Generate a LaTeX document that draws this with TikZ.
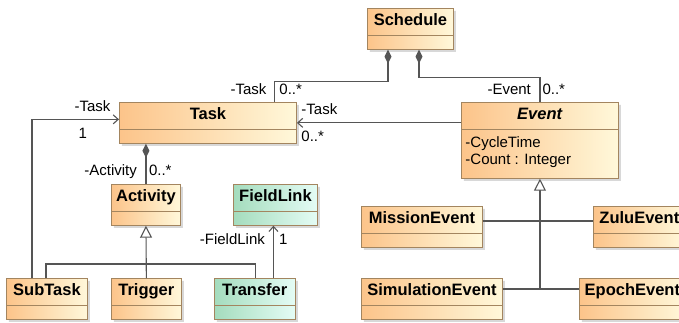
\documentclass[tikz,border=0pt]{standalone}
\usepackage{fontspec}
\setmainfont{Liberation Sans}
\usetikzlibrary{shapes.multipart,arrows.meta,positioning,shadows}

\definecolor{clsorange}{HTML}{FCC48A}
\definecolor{clscream}{HTML}{FFF8DA}
\definecolor{clsgreen}{HTML}{A4DCBD}
\definecolor{clsmint}{HTML}{E4FCF5}
\definecolor{clsborder}{HTML}{A3855F}
\definecolor{wire}{HTML}{555555}

\newcommand{\clsname}[1]{{\fontsize{16.5}{19}\selectfont\bfseries\strut#1}}

\begin{document}
\begin{tikzpicture}[
    x=1pt, y=-1pt,
    umlclass/.style={rectangle split, rectangle split parts=2, draw=clsborder, line width=0.9pt,
        left color=clsorange, right color=clscream, inner xsep=4pt, inner ysep=3.5pt,
        rectangle split empty part height=6pt, rectangle split empty part depth=0pt,
        font=\fontsize{15}{17}\selectfont, anchor=north west,
        drop shadow={shadow xshift=2.5pt, shadow yshift=-2.5pt, fill=black!30, opacity=0.5}},
    linkclass/.style={umlclass, left color=clsgreen, right color=clsmint},
    role/.style={font=\fontsize{15}{17}\selectfont, inner sep=1pt},
    wireline/.style={draw=wire, line width=1.1pt},
    comp/.style={wireline, {Diamond[length=14pt, width=7pt, fill=wire]}-},
    nav/.style={wireline, -{Straight Barb[length=5pt, width=9pt]}},
    gen/.style={wireline, -{Triangle[open, length=12pt, width=12pt, fill=white]}}
]
    \fill[white] (0,0) rectangle (679,322);
    \useasboundingbox (0,0) rectangle (679,322);

    % Classes
    \node[umlclass, minimum width=86pt] (schedule) at (367,8) {\clsname{Schedule}};
    \node[umlclass, minimum width=177pt] (task) at (119,102) {\clsname{Task}};
    \node[umlclass, minimum width=157pt, align=left, rectangle split part align={center,left}] (event) at (461,102)
        {\clsname{\textit{Event}}\nodepart{two}\rule{0pt}{14.5pt}-CycleTime\\-Count : Integer\rule[-9.5pt]{0pt}{9.5pt}};
    \node[umlclass, minimum width=69pt] (activity) at (111,184) {\clsname{Activity}};
    \node[linkclass, minimum width=84pt] (fieldlink) at (233,184) {\clsname{FieldLink}};
    \node[umlclass, minimum width=81pt] (subtask) at (6,278) {\clsname{SubTask}};
    \node[umlclass, minimum width=70pt, right=23pt of subtask] (trigger) {\clsname{Trigger}};
    \node[linkclass, minimum width=81pt, right=32pt of trigger] (transfer) {\clsname{Transfer}};
    \node[umlclass, minimum width=121pt] (mission) at (361,206) {\clsname{MissionEvent}};
    \node[umlclass, minimum width=92pt, right=110pt of mission] (zulu) {\clsname{ZuluEvent}};
    \node[umlclass, minimum width=141pt] (simulation) at (361,278) {\clsname{SimulationEvent}};
    \node[umlclass, minimum width=106pt, right=76pt of simulation] (epoch) {\clsname{EpochEvent}};

    % Associations
    \draw[comp] ([xshift=21pt]schedule.south west) -- ++(0,32) -| ([xshift=-22pt]task.north east)
        node[role, pos=1, anchor=base east, xshift=-7pt, yshift=8pt] {-Task}
        node[role, pos=1, anchor=base west, xshift=3pt, yshift=8pt] {0..*};
    \draw[comp] ([xshift=52pt]schedule.south west) -- ++(0,28) -| (event.north)
        node[role, pos=1, anchor=base east, xshift=-7.5pt, yshift=8pt] {-Event}
        node[role, pos=1, anchor=base west, xshift=1pt, yshift=8pt] {0..*};
    \draw[nav] (event.west |- task.east) -- (task.east)
        node[role, pos=1, anchor=base west, xshift=3pt, yshift=8.5pt] {-Task}
        node[role, pos=1, anchor=base west, xshift=3pt, yshift=-18.5pt] {0..*};
    \draw[nav] ([xshift=26pt]subtask.north west) |- ([yshift=3.5pt]task.west)
        node[role, pos=1, anchor=base east, xshift=-7pt, yshift=8pt] {-Task}
        node[role, pos=1, anchor=base west, xshift=-42pt, yshift=-19pt] {1};
    \draw[comp] (activity.north |- task.south) -- (activity.north)
        node[role, pos=1, anchor=base east, xshift=-7.5pt, yshift=9pt] {-Activity}
        node[role, pos=1, anchor=base west, xshift=1.5pt, yshift=9pt] {0..*};
    \draw[nav] ([xshift=-2pt]transfer.north -| fieldlink.south) -- ([xshift=-2pt]fieldlink.south)
        node[role, pos=1, anchor=base east, xshift=-7pt, yshift=-19pt] {-FieldLink}
        node[role, pos=1, anchor=base west, xshift=4pt, yshift=-19pt] {1};

    % Generalizations
    \draw[gen] (trigger.north) -- (activity.south);
    \draw[wireline] ([xshift=40pt]subtask.north west) -- ++(0,-14) -| ([xshift=42pt]transfer.north west);
    \coordinate (missjoin) at ([yshift=-15pt]mission.north east);
    \coordinate (simjoin) at ([yshift=-11pt]simulation.north east);
    \draw[gen] (simjoin -| event.south) -- (event.south);
    \draw[wireline] (missjoin) -- (missjoin -| zulu.west);
    \draw[wireline] (simjoin) -- (simjoin -| epoch.west);
\end{tikzpicture}
\end{document}
